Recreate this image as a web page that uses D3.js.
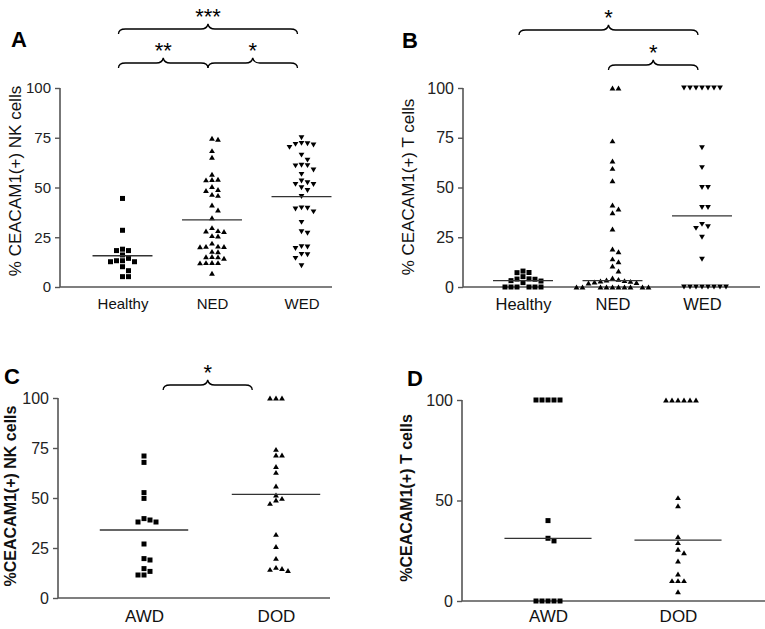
<!DOCTYPE html>
<html><head><meta charset="utf-8">
<script src="https://cdn.jsdelivr.net/npm/d3@7"></script>
<style>
html,body{margin:0;padding:0;background:#fff;}
svg{display:block;font-family:"Liberation Sans",Arial,Helvetica,sans-serif;}
</style></head>
<body>
<svg id="chart" width="765" height="629"></svg>
<script>
// ---------- DATA ----------
const categoriesAB = ["Healthy", "NED", "WED"];
const categoriesCD = ["AWD", "DOD"];
const ticksABC = [0, 25, 50, 75, 100];
const ticksD = [0, 50, 100];

// Panel A: % CEACAM1(+) NK cells
const nkHealthy = [44.5, 28.5, 19, 18.3, 18.3, 16.1, 14.4, 13.2, 12.7, 12.7, 13.2, 10.2, 8.2, 5.2, 5.2];
const nkNED = [74.7, 74.2, 68.5, 65.2, 56.6, 54.1, 54, 53.8, 50.5, 49, 48.5, 46.5, 46, 41.2, 38.7, 34.8, 29.8,
  28.1, 28.3, 27.9, 25.8, 25.6, 22, 20.3, 20.5, 20.2, 20.4, 17.7, 17.9, 15.2, 15.3, 15.1, 14.4, 12.2, 12.3, 12.1, 12.2, 6.9];
const nkWED = [75, 72.2, 71.7, 71.4, 72, 70.2, 66.3, 63.8, 61, 61.2, 60.9, 58.8, 56.6, 53.3, 52.4, 51.6, 51.5, 49.9,
  48.5, 45.5, 39.8, 39.2, 39.6, 37.8, 32.5, 27.8, 27, 20.3, 19.4, 20.1, 16.4, 14.4, 16.2, 10.7];
const nkMedians = [15.7, 33.7, 45.4];

// Panel B: % CEACAM1(+) T cells
const tHealthy = [8.0, 7.2, 7.3, 5.2, 4.0, 4.1, 3.9, 3.0, 3.2, 2.2, 0, 0, 0, 0, 0, 0];
const tNED = [100, 100, 73.4, 63.3, 59.6, 53.4, 41.2, 39.2, 37.3, 29.1, 19.1, 17.7, 14.1, 12.7, 10.5, 8.0,
  4.5, 3.8, 3.5, 3.2, 3, 2.8, 2.5, 2.2, 2, 0, 0, 0, 0, 0, 0, 0, 0, 0, 0];
const tWED = [100, 100, 100, 100, 100, 100, 100, 70, 60, 50, 50, 40, 40, 31.5, 30.3, 29.5, 25, 14, 0, 0, 0, 0, 0, 0, 0, 0];
const tMedians = [3.2, 3.2, 35.7];

// Panel C: %CEACAM1(+) NK cells by outcome
const nkAWD = [71, 67.8, 52.7, 49.8, 39.7, 39, 38, 38, 27, 19.7, 19, 14.7, 13.3, 11.5, 11.5];
const nkDOD = [100, 100, 100, 74.3, 71.5, 71.5, 65.7, 62.8, 56, 51.5, 49.8, 49, 47.3, 31.8, 25.7, 19.8, 15.3, 14.7, 14.3, 13.7];
const nkOutcomeMedians = [34, 51.8];

// Panel D: %CEACAM1(+) T cells by outcome
const tAWD = [100, 100, 100, 100, 100, 40, 31.2, 29.9, 0, 0, 0, 0, 0];
const tDOD = [100, 100, 100, 100, 100, 100, 51.4, 47.4, 32, 29, 25.7, 24, 19.9, 13.4, 10.1, 10.1, 10.1, 4.6];
const tOutcomeMedians = [31.2, 30.3];

// Significance brackets
const bracketsA = [
  {from: "Healthy", to: "WED", level: 0, label: "***"},
  {from: "Healthy", to: "NED", level: 1, label: "**"},
  {from: "NED", to: "WED", level: 1, label: "*"}
];
const bracketsB = [
  {from: "Healthy", to: "WED", level: 0, label: "*"},
  {from: "NED", to: "WED", level: 1, label: "*"}
];
const bracketsC = [{from: "AWD", to: "DOD", level: 0, label: "*"}];

// ---------- DRAWING ----------
const svg = d3.select("#chart");
const FONT = '"Liberation Sans",Arial,Helvetica,sans-serif';

function markerPath(shape) {
  if (shape === "square") return "M-2.5,-2.5h5v5h-5Z";
  if (shape === "up") return "M0,-2.5L2.9,2.4L-2.9,2.4Z";
  return "M0,2.5L2.9,-2.4L-2.9,-2.4Z";
}

function swarm(values, y, thresh) {
  const pts = values.map(v => ({v, py: y(v)}));
  const order = pts.slice().sort((a, b) => b.v - a.v);
  const placed = [];
  const seq = k => k === 0 ? 0 : (k % 2 === 1 ? (k + 1) / 2 : -k / 2);
  order.forEach(p => {
    for (let k = 0; k < 60; k++) {
      const s = seq(k);
      if (!placed.some(q => q.slot === s && Math.abs(q.py - p.py) < thresh)) {
        p.slot = s; placed.push(p); break;
      }
    }
  });
  return pts;
}

function bracePath(x1, x2, xt, yTip, yEnd) {
  const ym = yTip + (yEnd - yTip) * 0.5;
  const r = 7;
  return `M${x1},${yEnd} Q${x1},${ym} ${x1 + r},${ym} L${xt - r},${ym} Q${xt - 1},${ym} ${xt},${yTip}` +
         ` Q${xt + 1},${ym} ${xt + r},${ym} L${x2 - r},${ym} Q${x2},${ym} ${x2},${yEnd}`;
}

function panel(cfg) {
  const g = svg.append("g");
  const y = d3.scaleLinear().domain([0, 100]).range([cfg.bottom, cfg.top]);
  const x = d3.scalePoint().domain(cfg.cats).range(cfg.xr);
  const step = x.step();

  // y axis
  const ya = g.append("g").attr("transform", `translate(${cfg.left},0)`)
    .call(d3.axisLeft(y).tickValues(cfg.ticks).tickSize(5).tickPadding(4).tickFormat(d3.format("d")));
  ya.select(".domain").attr("stroke", "#555").attr("stroke-width", 1.6).attr("d", `M0,${cfg.top}V${cfg.bottom}`);
  ya.selectAll(".tick line").attr("stroke", "#555").attr("stroke-width", 1.4);
  ya.selectAll(".tick text").attr("fill", "#222").style("font-family", FONT).style("font-size", cfg.tickFont + "px");

  // x axis (line only, labels)
  const xa = g.append("g").attr("transform", `translate(0,${cfg.bottom})`)
    .call(d3.axisBottom(x).tickSize(0).tickPadding(cfg.catPad));
  xa.select(".domain").attr("stroke", "#555").attr("stroke-width", 1.6).attr("d", `M${cfg.left},0H${cfg.right}`);
  xa.selectAll(".tick text").attr("fill", "#111").style("font-family", FONT).style("font-size", cfg.catFont + "px");

  // y label
  g.append("text")
    .attr("transform", `translate(${cfg.ylabX},${cfg.ylabY}) rotate(-90)`)
    .attr("text-anchor", "middle")
    .style("font-family", FONT).style("font-size", cfg.ylabFont + "px")
    .style("font-weight", cfg.ylabBold ? "bold" : "normal")
    .attr("fill", "#111")
    .text(cfg.ylab);

  // panel letter
  g.append("text").attr("x", cfg.letterX).attr("y", cfg.letterY)
    .style("font-family", FONT).style("font-size", "22px").style("font-weight", "bold")
    .attr("fill", "#000").text(cfg.letter);

  // points
  cfg.series.forEach((vals, i) => {
    const c = cfg.cats[i];
    const pts = swarm(vals, y, 5);
    g.append("g").selectAll("path").data(pts).join("path")
      .attr("d", markerPath(cfg.shapes[i]))
      .attr("transform", d => `translate(${x(c) + d.slot * 6},${d.py})`)
      .attr("fill", "#000");
  });

  // medians
  g.append("g").selectAll("line").data(cfg.medians).join("line")
    .attr("x1", (d, i) => x(cfg.cats[i]) - step * 0.335)
    .attr("x2", (d, i) => x(cfg.cats[i]) + step * 0.335)
    .attr("y1", d => y(d)).attr("y2", d => y(d))
    .attr("stroke", "#333").attr("stroke-width", 1.3);

  // brackets
  (cfg.brackets || []).forEach(b => {
    const x1 = x(b.from) + cfg.bInset[0] * step;
    const x2 = x(b.to) + cfg.bInset[1] * step;
    const xt = (x1 + x2) / 2;
    const yTip = cfg.bTips[b.level];
    const yEnd = yTip + 10;
    g.append("path").attr("d", bracePath(x1, x2, xt, yTip, yEnd))
      .attr("fill", "none").attr("stroke", "#000").attr("stroke-width", 1.3);
    g.append("text").attr("x", xt).attr("y", yTip - 13 + 12.6)
      .attr("text-anchor", "middle")
      .style("font-family", FONT).style("font-size", "22px").attr("fill", "#000")
      .text(b.label);
  });
}

panel({
  cats: categoriesAB, series: [nkHealthy, nkNED, nkWED], medians: nkMedians,
  shapes: ["square", "up", "down"], ticks: ticksABC,
  left: 60, right: 332, top: 88, bottom: 287, xr: [122.5, 301.5],
  tickFont: 15, catFont: 15, catPad: 11,
  ylab: "% CEACAM1(+) NK cells", ylabBold: false, ylabFont: 17, ylabX: 21, ylabY: 181,
  letter: "A", letterX: 11, letterY: 47,
  brackets: bracketsA, bInset: [-0.045, -0.045], bTips: [24, 58]
});
panel({
  cats: categoriesAB, series: [tHealthy, tNED, tWED], medians: tMedians,
  shapes: ["square", "up", "down"], ticks: ticksABC,
  left: 463, right: 760, top: 88, bottom: 287, xr: [523, 702],
  tickFont: 16, catFont: 16.5, catPad: 11,
  ylab: "% CEACAM1(+) T cells", ylabBold: false, ylabFont: 17, ylabX: 414, ylabY: 187,
  letter: "B", letterX: 402, letterY: 48,
  brackets: bracketsB, bInset: [-0.045, -0.045], bTips: [25, 60]
});
panel({
  cats: categoriesCD, series: [nkAWD, nkDOD], medians: nkOutcomeMedians,
  shapes: ["square", "up"], ticks: ticksABC,
  left: 58, right: 330, top: 398, bottom: 598, xr: [144, 276],
  tickFont: 16, catFont: 17, catPad: 12,
  ylab: "%CEACAM1(+) NK cells", ylabBold: true, ylabFont: 16, ylabX: 16, ylabY: 496,
  letter: "C", letterX: 4, letterY: 384,
  brackets: bracketsC, bInset: [0.145, -0.18], bTips: [380]
});
panel({
  cats: categoriesCD, series: [tAWD, tDOD], medians: tOutcomeMedians,
  shapes: ["square", "up"], ticks: ticksD,
  left: 462, right: 765, top: 400, bottom: 601, xr: [548, 678],
  tickFont: 16, catFont: 17, catPad: 9,
  ylab: "%CEACAM1(+) T cells", ylabBold: true, ylabFont: 16, ylabX: 412, ylabY: 498,
  letter: "D", letterX: 407, letterY: 386
});
</script>
</body></html>
